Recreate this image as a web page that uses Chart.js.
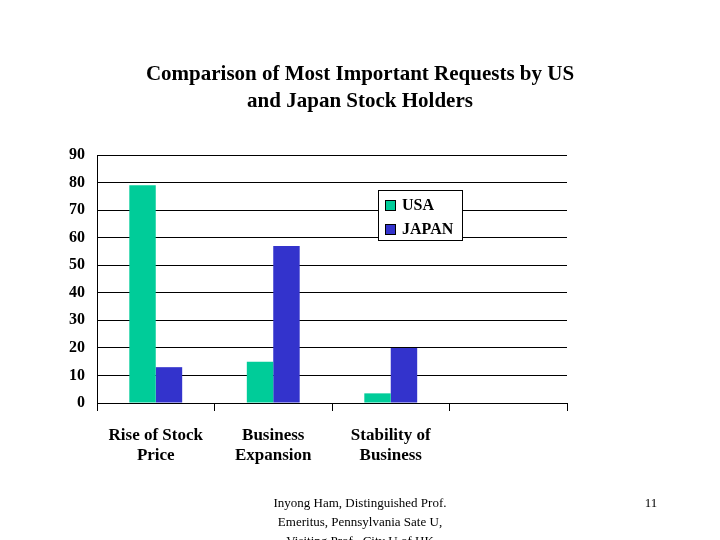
<!DOCTYPE html>
<html>
<head>
<meta charset="utf-8">
<script src="https://cdn.jsdelivr.net/npm/chart.js@4"></script>
<style>
  body { margin: 0; background: #fff; }
  canvas { display: block; }
</style>
</head>
<body>
<canvas id="chart" width="720" height="540"></canvas>
<script>
// Chart data
const categories = [['Rise of Stock', 'Price'], ['Business', 'Expansion'], ['Stability of', 'Business'], ''];
const usaValues = [79, 15, 3.5, null];
const japanValues = [13, 57, 20, null];
const titleLines = ['Comparison of Most Important Requests by US', 'and Japan Stock Holders'];
const footerLines = ['Inyong Ham, Distinguished Prof.', 'Emeritus, Pennsylvania Sate U,', 'Visiting Prof., City U of HK'];

const serif = '"Liberation Serif", "DejaVu Serif", serif';

// title, legend box and footer
const decorations = {
    id: 'decorations',
    afterDraw(chart) {
        const ctx = chart.ctx;
        ctx.save();
        ctx.fillStyle = '#000';
        ctx.textAlign = 'center';
        ctx.textBaseline = 'middle';
        ctx.font = 'bold 21px ' + serif;
        ctx.fillText(titleLines[0], 360, 75);
        ctx.fillText(titleLines[1], 360, 102);

        // legend
        ctx.strokeStyle = '#000';
        ctx.lineWidth = 1;
        ctx.fillStyle = '#fff';
        ctx.fillRect(378.5, 190.5, 84, 50);
        ctx.strokeRect(378.5, 190.5, 84, 50);
        ctx.font = 'bold 16px ' + serif;
        ctx.textAlign = 'left';
        chart.data.datasets.forEach((ds, i) => {
            const y = 205 + i * 24;
            ctx.fillStyle = ds.backgroundColor;
            ctx.fillRect(385, y - 5, 11, 11);
            ctx.strokeStyle = '#000';
            ctx.strokeRect(385.5, y - 4.5, 10, 10);
            ctx.fillStyle = '#000';
            ctx.fillText(ds.label, 402, y + 1);
        });

        // footer
        ctx.font = '13px ' + serif;
        ctx.textAlign = 'center';
        footerLines.forEach((line, i) => ctx.fillText(line, 360, 504 + i * 19));
        ctx.fillText('11', 651, 504);
        ctx.restore();
    }
};

new Chart(document.getElementById('chart'), {
    type: 'bar',
    data: {
        labels: categories,
        datasets: [
            { label: 'USA', data: usaValues, backgroundColor: '#00CC99' },
            { label: 'JAPAN', data: japanValues, backgroundColor: '#3333CC' }
        ]
    },
    options: {
        responsive: false,
        animation: false,
        layout: { padding: { top: 155, right: 153, left: 0, bottom: 0 } },
        datasets: { bar: { categoryPercentage: 0.45, barPercentage: 1 } },
        plugins: { legend: { display: false }, title: { display: false }, tooltip: { enabled: false } },
        scales: {
            x: {
                offset: true,
                afterFit(scale) { scale.height = 137; },
                grid: { drawOnChartArea: false, color: '#000', tickLength: 8, offset: true },
                border: { color: '#000' },
                ticks: { color: '#000', font: { family: serif, size: 17, weight: 'bold' }, padding: 14, maxRotation: 0 }
            },
            y: {
                min: 0, max: 90,
                afterFit(scale) { scale.width = 97; },
                grid: { color: '#000', drawTicks: false },
                border: { color: '#000' },
                ticks: { stepSize: 10, color: '#000', font: { family: serif, size: 16, weight: 'bold' }, padding: 12 }
            }
        }
    },
    plugins: [decorations]
});
</script>
</body>
</html>
